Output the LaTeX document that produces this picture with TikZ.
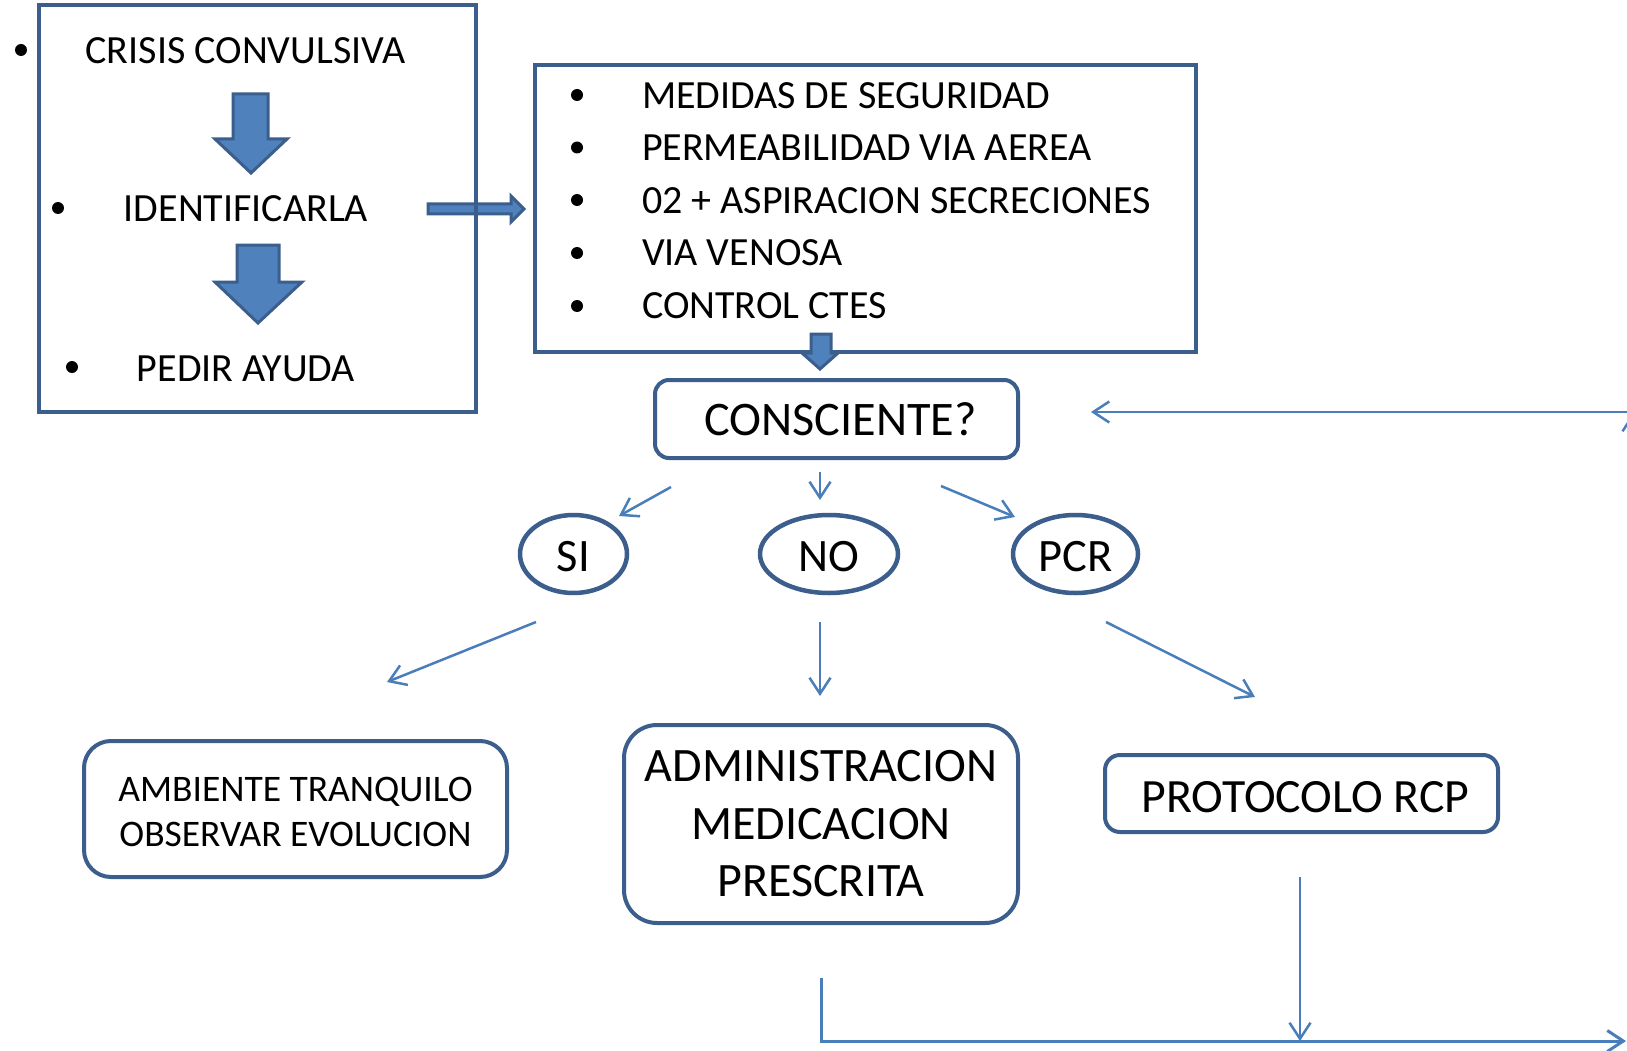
\documentclass[tikz,border=0pt]{standalone}
\usepackage{fontspec}
\setmainfont{Carlito}
\usetikzlibrary{arrows.meta,shapes.geometric}
\definecolor{bord}{HTML}{3B5E8C}
\definecolor{afill}{HTML}{4F81BD}
\definecolor{connc}{HTML}{4A7EBB}
\begin{document}
\begin{tikzpicture}[x=1pt,y=-1pt,
  sqbox/.style={draw=bord,line width=4pt,rectangle,inner sep=0pt,outer sep=0pt},
  rbox/.style={draw=bord,line width=4pt,rectangle,rounded corners=#1,inner sep=0pt,outer sep=0pt,align=center},
  oval/.style={draw=bord,line width=4.5pt,ellipse,inner sep=0pt,outer sep=0pt},
  blockarrow/.style={fill=afill,draw=bord,line width=3pt,line join=miter},
  conn/.style={draw=connc,line width=2.5pt,-{Straight Barb[length=16pt,width=21pt]}},
  txt/.style n args={2}{inner sep=0pt,outer sep=0pt,font=\fontsize{#1}{#2}\selectfont},
  bul/.style={fill=black}
]
\useasboundingbox (0,0) rectangle (1627,1051);
\clip (0,0) rectangle (1627,1051);
\fill[white] (0,0) rectangle (1627,1051);

% horizontal block arrow (under box 1 border)
\draw[blockarrow] (428,204) -- (511,204) -- (511,196) -- (524,209) -- (511,222) -- (511,214) -- (428,214) -- cycle;

% box 1
\node[sqbox,minimum width=437pt,minimum height=407pt] (box1) at (257.5,208.5) {};
\node[txt={40}{48},anchor=base] (crisis) at (245.5,64) {CRISIS CONVULSIVA};
\node[txt={40}{48},anchor=base] (ident) at (246,222) {IDENTIFICARLA};
\node[txt={40}{48},anchor=base] (pedir) at (246,381) {PEDIR AYUDA};
\fill[bul] (21,50) circle (6);
\fill[bul] (58,208) circle (6);
\fill[bul] (72,367) circle (6);
\draw[blockarrow] (233,94) -- (268,94) -- (268,139) -- (287,139) -- (251,173) -- (215,139) -- (233,139) -- cycle;
\draw[blockarrow] (237,245) -- (279,245) -- (279,282) -- (302,282) -- (258,323) -- (215,282) -- (237,282) -- cycle;

% box 2
\node[sqbox,minimum width=661pt,minimum height=287pt] (box2) at (865.5,208.5) {};
\node[txt={40}{48},anchor=base west] (m1) at (642,108.5) {MEDIDAS DE SEGURIDAD};
\node[txt={40}{48},anchor=base west] (m2) at (642,160.9) {PERMEABILIDAD VIA AEREA};
\node[txt={40}{48},anchor=base west] (m3) at (642,213.3) {02 + ASPIRACION SECRECIONES};
\node[txt={40}{48},anchor=base west] (m4) at (642,265.7) {VIA VENOSA};
\node[txt={40}{48},anchor=base west] (m5) at (642,318.1) {CONTROL CTES};
\foreach \yy in {95,147.5,200,253,306} \fill[bul] (577,\yy) circle (6);
\draw[blockarrow] (811,334) -- (831,334) -- (831,353) -- (838,353) -- (820,369) -- (802,353) -- (811,353) -- cycle;

% decision
\node[rbox=14pt,minimum width=363pt,minimum height=78pt,txt={48.2}{58}] (cons) at (836.5,419) {\kern8pt CONSCIENTE?};
\node[oval,minimum width=107pt,minimum height=78pt,txt={46.5}{56},text height=34pt,text depth=0pt] (si) at (573.5,554) {SI};
\node[oval,minimum width=138pt,minimum height=78pt,txt={46.5}{56},text height=34pt,text depth=0pt] (no) at (829,554) {NO};
\node[oval,minimum width=125pt,minimum height=78pt,txt={46.5}{56},text height=34pt,text depth=0pt] (pcr) at (1075.5,554) {PCR};

% outcome boxes
\node[rbox=27pt,minimum width=423pt,minimum height=136pt,txt={37.5}{45},text height=75pt,text depth=0pt] (amb) at (295.5,809) {AMBIENTE TRANQUILO\\OBSERVAR EVOLUCION};
\node[rbox=33pt,minimum width=394pt,minimum height=198pt,txt={48}{57.5}] (adm) at (821,824) {ADMINISTRACION\\MEDICACION\\PRESCRITA};
\node[rbox=15pt,minimum width=393pt,minimum height=77pt,txt={47.8}{57},text height=37pt,text depth=0pt] (prot) at (1301.5,793.5) {\kern8pt PROTOCOLO RCP};

% connector end points
\coordinate (c1s) at (671,487); \coordinate (c1e) at (619,516);
\coordinate (c2s) at (820,472); \coordinate (c2e) at (820,500);
\coordinate (c3s) at (941,486); \coordinate (c3e) at (1015,517);
\coordinate (d1s) at (536,622); \coordinate (d1e) at (387,682);
\coordinate (d2s) at (820,622); \coordinate (d2e) at (820,696);
\coordinate (d3s) at (1106,622); \coordinate (d3e) at (1255,697);
\coordinate (admout) at (821,978); \coordinate (corner) at (821,1041);
\coordinate (rightend) at (1626,1041);
\coordinate (protout) at (1300,877); \coordinate (protin) at (1300,1041);
\coordinate (backstart) at (1645,412); \coordinate (consin) at (1091,412);
\coordinate (upstart) at (1633,700); \coordinate (upend) at (1633,413);

\draw[conn] (c1s) -- (c1e);
\draw[conn] (c2s) -- (c2e);
\draw[conn] (c3s) -- (c3e);
\draw[conn] (d1s) -- (d1e);
\draw[conn] (d2s) -- (d2e);
\draw[conn] (d3s) -- (d3e);
\draw[conn,line width=3pt] (admout) -- (corner) -- (rightend);
\draw[conn] (protout) -- (protin);
\draw[conn] (backstart) -- (consin);
\draw[conn] (upstart) -- (upend);
\end{tikzpicture}
\end{document}
